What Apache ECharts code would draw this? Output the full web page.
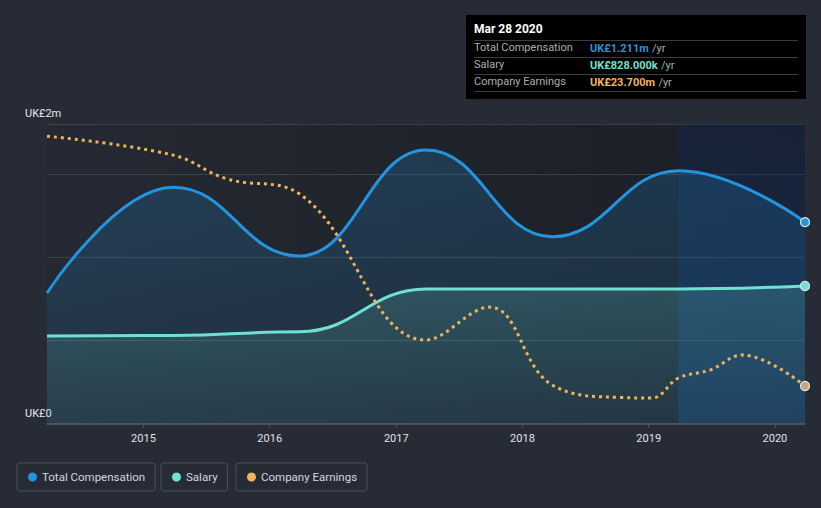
<!DOCTYPE html>
<html>
<head>
<meta charset="utf-8">
<script src="https://cdn.jsdelivr.net/npm/echarts@6/dist/echarts.min.js"></script>
<style>
html,body{margin:0;padding:0;background:#262b36;}
#chart{width:821px;height:508px;}
</style>
</head>
<body>
<div id="chart"></div>
<script>
// ---- data ----
const compDates = ['2014-03-28','2015-03-28','2016-03-28','2017-03-28','2018-03-28','2019-03-28','2020-03-28'];
const totalComp = [0.786, 1.420, 1.008, 1.644, 1.124, 1.520, 1.211]; // UK£m
const salary    = [0.528, 0.531, 0.554, 0.810, 0.810, 0.810, 0.828]; // UK£m
const earnDates = ['2014-03-28','2015-03-28','2015-08-28','2016-03-28','2017-03-28','2017-09-28','2018-03-28','2018-10-15','2019-01-10','2019-03-28','2019-06-28','2019-09-28','2020-03-28'];
const earnings  = [179.5, 167.7, 153.0, 143.4, 52.4, 72.9, 24.3, 16.5, 16.2, 28.7, 33.7, 43.0, 23.7]; // UK£m
const yTickLabels = {0: 'UK£0', 1.8: 'UK£2m'};
const xStart = '2014-03-28', xEnd = '2020-03-28';
const highlightStart = '2019-03-28';
const tipTitle = 'Mar 28 2020';

const C_TOTAL = '#2394df', C_SAL = '#6fe0d1', C_EARN = '#f0b557';

function pairs(dates, vals, color, fill) {
  return vals.map((v, i) => {
    const item = {value: [dates[i], v]};
    if (i === vals.length - 1) {
      item.symbol = 'circle';
      item.symbolSize = 9;
      item.itemStyle = {color: fill, borderColor: '#dfe6ee', borderWidth: 1.2};
    }
    return item;
  });
}

const last = totalComp.length - 1;
const totStr = 'UK£' + totalComp[last].toFixed(3) + 'm';
const salStr = 'UK£' + (salary[last] * 1000).toFixed(3) + 'k';
const earnStr = 'UK£' + earnings[earnings.length - 1].toFixed(3) + 'm';

const chart = echarts.init(document.getElementById('chart'), null, {renderer: 'svg'});

function legendBox(name, left) {
  return {
    data: [name], left: left, top: 463,
    orient: 'horizontal',
    icon: 'circle', itemWidth: 9, itemHeight: 9, itemGap: 6,
    padding: [8, 10, 8, 11],
    borderColor: '#4a4f5b', borderWidth: 1, borderRadius: 3,
    textStyle: {color: '#d4d7dc', fontSize: 11.5, fontFamily: 'Roboto'},
    selectedMode: false
  };
}

const rowY = [48, 65, 82];
const sepY = [40, 57, 74, 91];

const option = {
  backgroundColor: '#262b36',
  animation: false,
  textStyle: {fontFamily: 'Roboto'},
  grid: {
    left: 47, right: 16, top: 124, bottom: 84,
    show: true, borderWidth: 0,
    backgroundColor: {type: 'linear', x: 0, y: 0, x2: 1, y2: 0,
      colorStops: [{offset: 0, color: '#242933'}, {offset: 1, color: '#1b1e25'}]}
  },
  legend: [
    legendBox('Total Compensation', 17),
    legendBox('Salary', 161),
    legendBox('Company Earnings', 236)
  ],
  xAxis: {
    type: 'time',
    min: xStart, max: xEnd,
    splitNumber: 6,
    minInterval: 365 * 24 * 3600 * 1000,
    axisLine: {show: true, lineStyle: {color: '#50555f', width: 1.5}},
    axisTick: {show: true, length: 4, lineStyle: {color: '#50555f'}},
    splitLine: {show: false},
    axisLabel: {
      color: '#e0e3e8', fontSize: 11, margin: 9,
      formatter: function (v) {
        const d = new Date(v);
        return d.getMonth() === 0 ? String(d.getFullYear()) : '';
      }
    }
  },
  yAxis: [
    {
      type: 'value', min: 0, max: 1.8, interval: 0.5,
      axisLine: {show: false}, axisTick: {show: false},
      splitLine: {show: true, lineStyle: {color: 'rgba(255,255,255,0.13)', width: 1}},
      axisLabel: {
        color: '#e6e8ec', fontSize: 11, align: 'left', margin: 22,
        verticalAlign: 'bottom', padding: [0, 0, 5, 0],
        formatter: function (v) {
          const k = Math.round(v * 10) / 10;
          return yTickLabels[k] !== undefined ? yTickLabels[k] : '';
        }
      }
    },
    {
      type: 'value', min: 0, max: 187.1, show: false,
      splitLine: {show: false}
    }
  ],
  series: [
    {
      name: 'Total Compensation', type: 'line', yAxisIndex: 0,
      smooth: 0.45, smoothMonotone: 'x',
      symbol: 'none', showSymbol: true,
      lineStyle: {color: C_TOTAL, width: 3},
      itemStyle: {color: C_TOTAL},
      areaStyle: {color: {type: 'linear', x: 0, y: 0, x2: 0, y2: 1,
        colorStops: [{offset: 0, color: 'rgba(35,148,223,0.30)'}, {offset: 1, color: 'rgba(35,148,223,0.12)'}]}},
      data: pairs(compDates, totalComp, C_TOTAL, C_TOTAL),
      markArea: {
        silent: true,
        itemStyle: {color: {type: 'linear', x: 0, y: 0, x2: 0, y2: 1,
          colorStops: [{offset: 0, color: 'rgba(8,45,115,0.22)'}, {offset: 1, color: 'rgba(20,80,160,0.32)'}]}},
        data: [[{xAxis: highlightStart}, {xAxis: xEnd}]]
      },
      z: 2
    },
    {
      name: 'Salary', type: 'line', yAxisIndex: 0,
      smooth: 0.45, smoothMonotone: 'x',
      symbol: 'none', showSymbol: true,
      lineStyle: {color: C_SAL, width: 3},
      itemStyle: {color: C_SAL},
      areaStyle: {color: {type: 'linear', x: 0, y: 0, x2: 0, y2: 1,
        colorStops: [{offset: 0, color: 'rgba(111,224,209,0.26)'}, {offset: 1, color: 'rgba(111,224,209,0.10)'}]}},
      data: pairs(compDates, salary, C_SAL, C_SAL),
      z: 3
    },
    {
      name: 'Company Earnings', type: 'line', yAxisIndex: 1,
      smooth: 0.4,
      symbol: 'none', showSymbol: true,
      lineStyle: {color: C_EARN, width: 3, type: [3, 4]},
      itemStyle: {color: C_EARN},
      data: pairs(earnDates, earnings, C_EARN, '#c8a67a'),
      z: 4
    }
  ],
  graphic: [
    {type: 'rect', left: 466, top: 15, shape: {width: 340, height: 84}, style: {fill: '#000000'}, z: 100},
    {type: 'text', left: 474, top: 23, style: {text: tipTitle, fill: '#ffffff', font: 'bold 12px Roboto'}, z: 101},
    ...sepY.map(y => ({type: 'line', shape: {x1: 474, y1: y + 0.5, x2: 798, y2: y + 0.5}, style: {stroke: '#3c3c3c', lineWidth: 1}, z: 101})),
    ...[['Total Compensation', totStr, C_TOTAL], ['Salary', salStr, C_SAL], ['Company Earnings', earnStr, C_EARN]].map((r, i) => ([
      {type: 'text', left: 474, top: rowY[i] - 6, style: {text: r[0], fill: '#a9adb3', font: '11px Roboto'}, z: 101},
      {type: 'text', left: 590, top: rowY[i] - 6, style: {
        text: '{a|' + r[1] + '} {b|/yr}',
        rich: {a: {fill: r[2], font: 'bold 11px Roboto'}, b: {fill: '#a9adb3', font: '11px Roboto'}}
      }, z: 101}
    ])).flat()
  ]
};
chart.setOption(option);
</script>
</body>
</html>
